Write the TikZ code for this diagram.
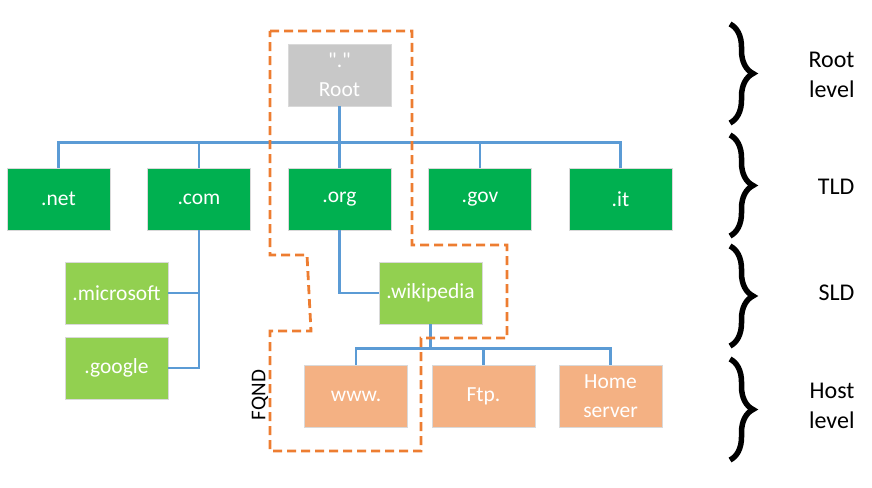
\documentclass[tikz,border=0pt]{standalone}
\usepackage{fontspec}
\setmainfont{Carlito}
\usetikzlibrary{decorations.pathreplacing}

\definecolor{rootgray}{RGB}{200,200,200}
\definecolor{tldgreen}{RGB}{0,176,80}
\definecolor{sldgreen}{RGB}{146,208,80}
\definecolor{hostorange}{RGB}{244,177,131}
\definecolor{linkblue}{RGB}{91,155,213}
\definecolor{fqdnorange}{RGB}{237,125,49}

\newcommand\plainquote{\XeTeXglyph\XeTeXcharglyph"22\relax}

\tikzset{
  dnsbox/.style={draw=black!15, line width=0.8pt, minimum width=103pt, minimum height=62pt,
    inner sep=0pt, text=white, align=center, font=\fontsize{21.5}{29}\selectfont},
  link/.style={linkblue, line width=2.5pt},
  fqdnline/.style={fqdnorange, line width=2.8pt, dash pattern=on 9pt off 5pt},
  levelbrace/.style={decorate, decoration={brace, amplitude=23pt}, line width=5.5pt},
  levelname/.style={anchor=east, align=right, font=\fontsize{24}{30}\selectfont},
}

\begin{document}
\begin{tikzpicture}[x=1pt,y=-1pt]
\useasboundingbox (0,0) rectangle (872,487);

	\node[dnsbox, fill=rootgray] (root) at (339.5,75) {\plainquote.\plainquote\\Root};

            \foreach \tld/\lbl [count=\i from 0] in {net/.net,com/.com,org/.org,gov/.gov,it/.it}{
              \node[dnsbox, fill=tldgreen] (\tld) at (58.5+140.5*\i,199) {\lbl};
            }

            \node[dnsbox, fill=sldgreen] (microsoft) at (116.5,293) {.microsoft};
            \node[dnsbox, fill=sldgreen] (google) at (116.5,368) {.google};
            \node[dnsbox, fill=sldgreen] (wikipedia) at (430.5,293) {.wikipedia};

            \node[dnsbox, fill=hostorange] (www) at (356,396) {www.};
            \node[dnsbox, fill=hostorange] (ftp) at (483.5,396) {Ftp.};
            \node[dnsbox, fill=hostorange] (home) at (610.5,396) {Home\\server};

            \draw[link] (root.south) -- (org.north);
            \draw[link] (net.north) -- ++(0,-25) -| (it.north);
            \foreach \tld in {com,gov}{
              \draw[link] (\tld.north) -- ++(0,-25);
            }
            \draw[link] (com.south) |- (google.east);
            \draw[link] (microsoft.east) -- (microsoft.east -| com.south);
            \draw[link] (org.south) |- (wikipedia.west);
            \draw[link] (wikipedia.south) -- ++(0,25);
            \draw[link] (www.north) -- ++(0,-16) -| (home.north);
            \draw[link] (ftp.north) -- ++(0,-16);

            \draw[fqdnline] (270,31) -- (412,31) -- (412,245) -- (507,245) -- (507,338)
              -- (421,338) -- (421,451) -- (270,451) -- (270,331) -- (311,331)
              -- (307,255) -- (270,255) -- cycle;
            \node[rotate=90, font=\fontsize{21}{25}\selectfont] (fqnd) at (260,395) {FQND};

            \foreach \top/\bot in {24/123,135/236,246/346,359/460}{
              \draw[levelbrace] (730,\top) -- (730,\bot);
            }

            \node[levelname] (rootlevel) at (858,75) {Root\\level};
            \node[levelname] (tldlevel) at (858,187) {TLD};
            \node[levelname] (sldlevel) at (858,293) {SLD};
            \node[levelname] (hostlevel) at (858,406) {Host\\level};

        \end{tikzpicture}
\end{document}
